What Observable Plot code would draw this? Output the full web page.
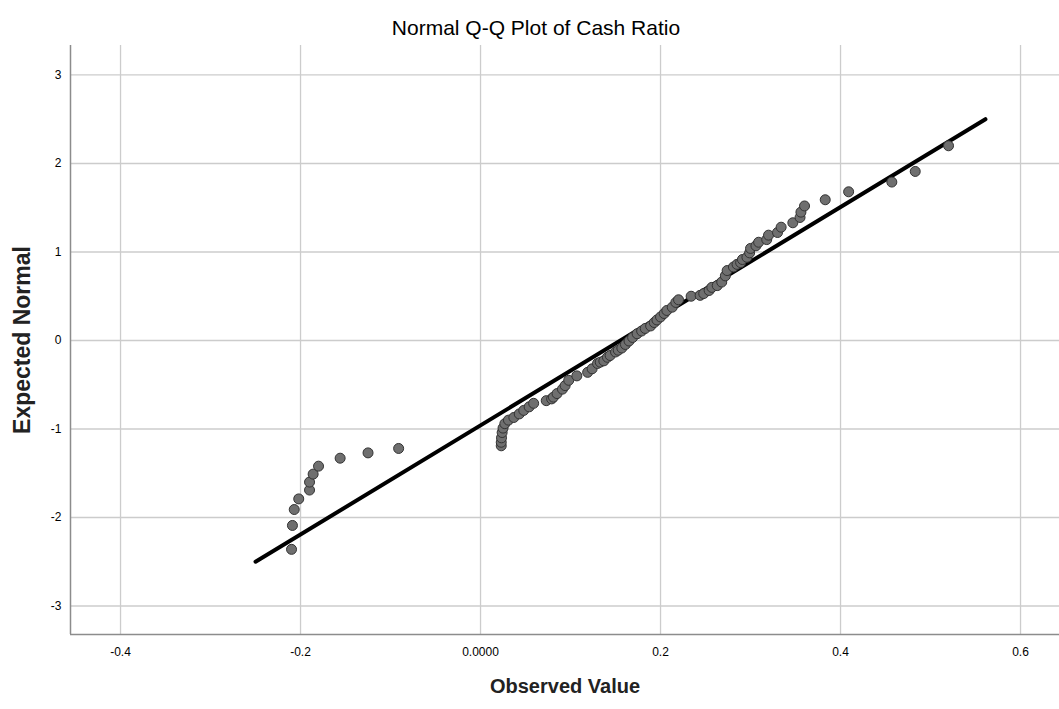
<!DOCTYPE html>
<html>
<head>
<meta charset="utf-8">
<script src="https://cdn.jsdelivr.net/npm/d3@7"></script>
<script src="https://cdn.jsdelivr.net/npm/@observablehq/plot@0.6"></script>
<style>
  html, body { margin: 0; padding: 0; background: #fff; }
  #chart { position: relative; width: 1059px; height: 709px; overflow: hidden; }
  #title {
    position: absolute; left: 0; top: 0; width: 1072px; height: 45px;
    text-align: center; line-height: 56px;
    font-family: "Liberation Sans", Arial, sans-serif;
    font-size: 21px; color: #000;
  }
  #plot { position: absolute; left: 0; top: 45px; }
</style>
</head>
<body>
<div id="chart">
  <div id="title">Normal Q-Q Plot of Cash Ratio</div>
  <div id="plot"></div>
</div>
<script>
// Observed cash ratios and their expected normal scores
const observed = [
  -0.210, -0.209, -0.207, -0.202, -0.190, -0.190, -0.186, -0.180, -0.156, -0.125, -0.091,
  0.023, 0.023, 0.0233, 0.024, 0.025, 0.027, 0.031, 0.037, 0.043, 0.048, 0.054, 0.059,
  0.073, 0.079, 0.081, 0.085, 0.091, 0.094, 0.098, 0.107, 0.119, 0.124, 0.130, 0.133,
  0.137, 0.141, 0.144, 0.150, 0.153, 0.157, 0.161, 0.165, 0.169, 0.174, 0.179, 0.183,
  0.189, 0.193, 0.196, 0.200, 0.204, 0.207, 0.213, 0.217, 0.220, 0.234, 0.244, 0.248,
  0.254, 0.257, 0.263, 0.268, 0.272, 0.274, 0.281, 0.285, 0.289, 0.291, 0.296, 0.299,
  0.300, 0.306, 0.309, 0.318, 0.320, 0.330, 0.334, 0.347, 0.355, 0.356, 0.360, 0.383,
  0.409, 0.457, 0.483, 0.520
];
const expectedNormal = [
  -2.36, -2.09, -1.91, -1.79, -1.69, -1.60, -1.51, -1.42, -1.33, -1.27, -1.22,
  -1.19, -1.15, -1.10, -1.04, -0.99, -0.94, -0.90, -0.87, -0.83, -0.79, -0.75, -0.71,
  -0.68, -0.66, -0.64, -0.60, -0.55, -0.51, -0.45, -0.40, -0.36, -0.32, -0.26, -0.245,
  -0.23, -0.19, -0.17, -0.13, -0.11, -0.085, -0.045, -0.006, 0.034, 0.076, 0.107, 0.136,
  0.164, 0.203, 0.232, 0.266, 0.305, 0.339, 0.376, 0.43, 0.46, 0.50, 0.51, 0.53,
  0.565, 0.60, 0.62, 0.66, 0.73, 0.79, 0.83, 0.86, 0.88, 0.915, 0.94, 0.99,
  1.04, 1.07, 1.11, 1.14, 1.19, 1.22, 1.28, 1.33, 1.39, 1.45, 1.52, 1.59,
  1.68, 1.79, 1.91, 2.20
];

// Reference line endpoints
const lineObserved = [-0.25, 0.561];
const lineExpected = [-2.5, 2.5];

// Axis ticks and labels
const xTicks = [-0.4, -0.2, 0, 0.2, 0.4, 0.6];
const xTickLabels = ["-0.4", "-0.2", "0.0000", "0.2", "0.4", "0.6"];
const yTicks = [-3, -2, -1, 0, 1, 2, 3];
const xDomain = [-0.4556, 0.6433];
const yDomain = [-3.322, 3.333];

const points = observed.map((x, i) => ({x, y: expectedNormal[i]}));
const refLine = lineObserved.map((x, i) => ({x, y: lineExpected[i]}));
const xLabelOf = new Map(xTicks.map((t, i) => [t, xTickLabels[i]]));

const font = '"Liberation Sans", Arial, sans-serif';
const gridColor = "#cccccc";
const axisColor = "#8c8c8c";

const chart = Plot.plot({
  width: 1059,
  height: 664,
  marginTop: 0,
  marginLeft: 70,
  marginRight: 0,
  marginBottom: 75,
  style: {fontFamily: font, fontSize: "12px", color: "#000", background: "#fff"},
  x: {domain: xDomain},
  y: {domain: yDomain},
  marks: [
    Plot.gridX(xTicks, {stroke: gridColor, strokeOpacity: 1, strokeWidth: 1.3}),
    Plot.gridY(yTicks, {stroke: gridColor, strokeOpacity: 1, strokeWidth: 1.3}),
    Plot.ruleY([yDomain[0]], {stroke: axisColor, strokeWidth: 1.5}),
    Plot.ruleX([xDomain[0]], {stroke: axisColor, strokeWidth: 1.5}),
    Plot.axisX(xTicks, {tickSize: 0, tickPadding: 13, tickFormat: d => xLabelOf.get(d), label: null, fontSize: 12}),
    Plot.axisY(yTicks, {tickSize: 0, tickPadding: 9, tickFormat: d => String(d), label: null, fontSize: 12}),
    Plot.line(refLine, {x: "x", y: "y", stroke: "#000", strokeWidth: 4}),
    Plot.dot(points, {x: "x", y: "y", r: 5, fill: "#6f6f6f", stroke: "#333", strokeWidth: 1}),
    Plot.text(["Observed Value"], {frameAnchor: "bottom", dy: 58, fontSize: 20, fontWeight: "bold", fill: "#222"}),
    Plot.text(["Expected Normal"], {frameAnchor: "left", textAnchor: "middle", dx: -48, rotate: -90, fontSize: 23, fontWeight: "bold", fill: "#222"})
  ]
});
document.getElementById("plot").appendChild(chart);
</script>
</body>
</html>
